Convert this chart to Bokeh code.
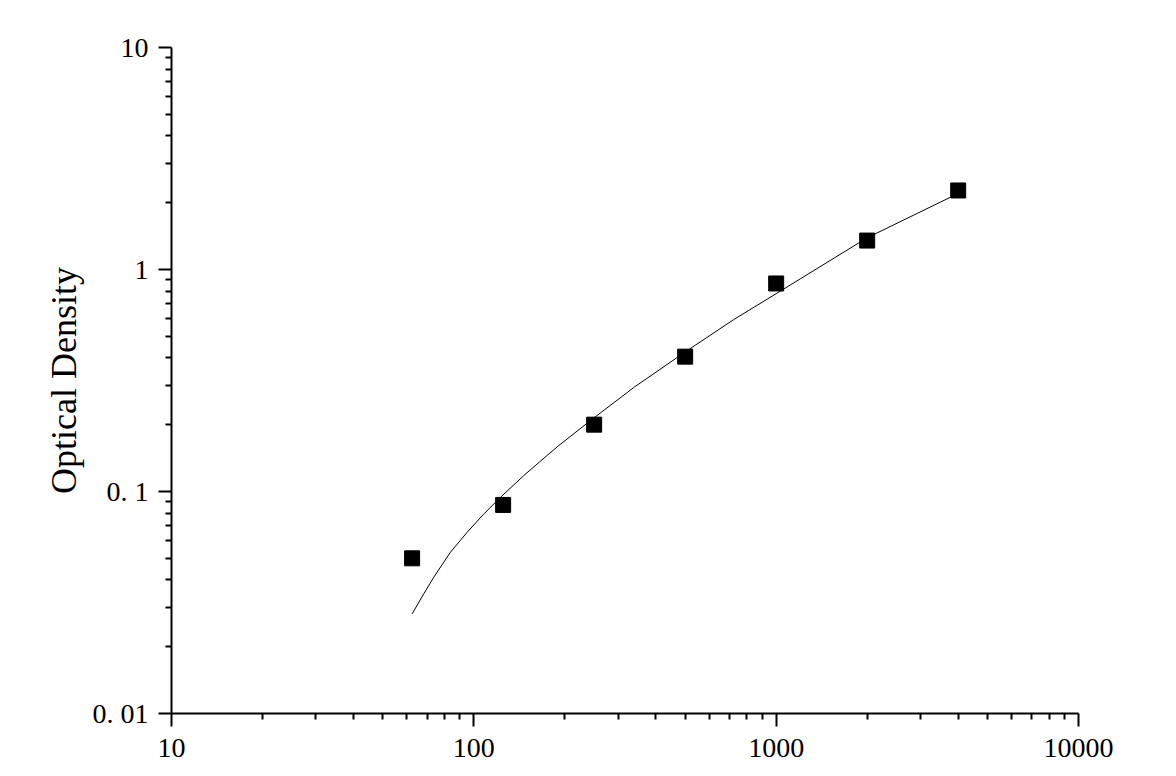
from bokeh.plotting import figure
from bokeh.models import FixedTicker, ColumnDataSource
from bokeh.embed import file_html
from bokeh.resources import INLINE

# Standards (concentration) and measured optical density
conc = [62.5, 125, 250, 500, 1000, 2000, 4000]
od = [0.050, 0.087, 0.200, 0.405, 0.865, 1.35, 2.27]

# Fitted curve
fit_x = [62.5, 68.3, 73.7, 83.7, 95.1, 108, 122.5, 146.3, 188.7, 250, 338, 500, 724, 1000, 1204, 2000, 4000]
fit_y = [0.0281, 0.0346, 0.0411, 0.0533, 0.0656, 0.0793, 0.0942, 0.118, 0.159, 0.215, 0.294, 0.425, 0.595, 0.778, 0.909, 1.39, 2.20]

x_ticks = [10, 100, 1000, 10000]
x_tick_labels = ["10", "100", "1000", "10000"]
y_ticks = [0.01, 0.1, 1, 10]
y_tick_labels = ["0. 01", "0. 1", "1", "10"]

FONT = "Liberation Serif"

p = figure(frame_width=907, frame_height=666,
           x_axis_type="log", y_axis_type="log",
           x_range=(10, 10000), y_range=(0.01, 10),
           min_border_left=171, min_border_right=90,
           min_border_top=47, min_border_bottom=60,
           output_backend="svg", toolbar_location=None)

p.outline_line_color = None
p.xgrid.visible = False
p.ygrid.visible = False
p.background_fill_color = "white"
p.border_fill_color = "white"

x_minor = [m * t for t in x_ticks[:-1] for m in range(2, 10)]
y_minor = [round(m * t, 4) for t in y_ticks[:-1] for m in range(2, 10)]

p.xaxis.ticker = FixedTicker(ticks=x_ticks, minor_ticks=x_minor)
p.yaxis.ticker = FixedTicker(ticks=y_ticks, minor_ticks=y_minor)
p.xaxis.major_label_overrides = {t: l for t, l in zip(x_ticks, x_tick_labels)}
p.yaxis.major_label_overrides = {t: l for t, l in zip(y_ticks, y_tick_labels)}

for ax in (p.xaxis, p.yaxis):
    ax.axis_line_width = 2
    ax.axis_line_color = "black"
    ax.major_tick_line_width = 2
    ax.minor_tick_line_width = 2
    ax.major_tick_line_color = "black"
    ax.minor_tick_line_color = "black"
    ax.major_tick_out = 13
    ax.major_tick_in = 0
    ax.minor_tick_out = 6
    ax.minor_tick_in = 0
    ax.major_label_text_font = FONT
    ax.major_label_text_font_size = "28px"
    ax.major_label_text_color = "black"
    ax.major_label_standoff = 10

p.xaxis.major_label_standoff = 12

p.yaxis.axis_label = "Optical Density"
p.yaxis.axis_label_text_font = FONT
p.yaxis.axis_label_text_font_size = "36px"
p.yaxis.axis_label_text_font_style = "normal"
p.yaxis.axis_label_text_color = "black"
p.yaxis.axis_label_standoff = 6

fit_src = ColumnDataSource(dict(x=fit_x, y=fit_y))
pt_src = ColumnDataSource(dict(x=conc, y=od))

p.line("x", "y", source=fit_src, line_color="black", line_width=1)
p.scatter("x", "y", source=pt_src, marker="square", size=15,
          fill_color="black", line_color="black")

open("out.html", "w").write(file_html(p, INLINE))
